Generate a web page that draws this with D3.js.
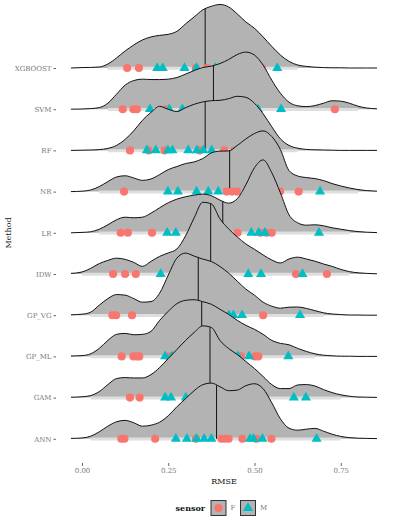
<!DOCTYPE html>
<html>
<head>
<meta charset="utf-8">
<script src="https://d3js.org/d3.v7.min.js"></script>
<style>
  body { margin: 0; background: #fff; }
  svg { display: block; }
  text { font-family: "DejaVu Serif", serif; }
</style>
</head>
<body>
<div id="chart"></div>
<script>
var svgWidth = 397;
var svgHeight = 525;

// categories, top ridge first
var methods = ["XGBOOST", "SVM", "RF", "NR", "LR", "IDW", "GP_VG", "GP_ML", "GAM", "ANN"];
var sensors = ["F", "M"];
var xTicks = [0, 0.25, 0.5, 0.75];

// RMSE values at which the ridge densities were read
var rmseGrid = [-0.032, 0, 0.025, 0.05, 0.075, 0.1, 0.125, 0.15, 0.175, 0.2, 0.225, 0.25,
  0.275, 0.3, 0.325, 0.35, 0.375, 0.4, 0.425, 0.45, 0.475, 0.5, 0.525, 0.55, 0.575, 0.6,
  0.625, 0.65, 0.675, 0.7, 0.725, 0.75, 0.775, 0.8, 0.825, 0.855];

// density of RMSE for each method (same order as rmseGrid)
var densXGBOOST = [0, 0.02, 0.03, 0.05, 0.2, 0.5, 0.85, 1.15, 1.4, 1.55, 1.63, 1.68, 1.83, 2.2, 2.55, 2.9, 3.08, 3.17, 3.05, 2.7, 2.3, 1.98, 1.55, 1.08, 0.65, 0.33, 0.15, 0.08, 0.04, 0.02, 0.01, 0.01, 0, 0, 0, 0];
var densSVM = [0, 0.01, 0.03, 0.08, 0.3, 0.75, 1.2, 1.43, 1.5, 1.48, 1.48, 1.5, 1.58, 1.75, 1.93, 2.08, 2.15, 2.28, 2.48, 2.73, 2.85, 2.7, 2.2, 1.45, 0.8, 0.35, 0.17, 0.13, 0.18, 0.3, 0.42, 0.4, 0.3, 0.15, 0.06, 0.02];
var densRF = [0, 0.01, 0.02, 0.04, 0.1, 0.25, 0.55, 0.98, 1.5, 1.9, 2.2, 2.05, 1.94, 2.13, 2.3, 2.42, 2.48, 2.5, 2.58, 2.7, 2.65, 2.35, 1.83, 1.18, 0.58, 0.25, 0.11, 0.05, 0.03, 0.02, 0.01, 0, 0, 0, 0, 0];
var densNR = [0, 0.02, 0.08, 0.25, 0.5, 0.73, 0.79, 0.68, 0.56, 0.63, 0.85, 1.1, 1.25, 1.4, 1.48, 1.65, 1.93, 2.02, 2.03, 2.3, 2.63, 2.9, 3.03, 2.75, 2.1, 1.05, 0.78, 0.7, 0.65, 0.55, 0.4, 0.28, 0.18, 0.1, 0.05, 0.02];
var densLR = [0, 0.02, 0.05, 0.18, 0.4, 0.65, 0.78, 0.75, 0.78, 0.98, 1.25, 1.5, 1.68, 1.8, 1.88, 1.93, 1.85, 1.63, 1.48, 1.7, 2.4, 3.25, 3.64, 3.0, 2.0, 0.9, 0.5, 0.38, 0.4, 0.35, 0.25, 0.18, 0.11, 0.06, 0.03, 0.01];
var densIDW = [0.03, 0.1, 0.28, 0.52, 0.68, 0.79, 0.73, 0.58, 0.38, 0.63, 0.88, 1.05, 1.25, 1.9, 2.8, 3.58, 3.5, 2.75, 2.25, 1.85, 1.5, 1.23, 0.95, 0.7, 0.55, 0.75, 0.84, 0.75, 0.64, 0.5, 0.38, 0.23, 0.12, 0.06, 0.03, 0.01];
var densGPVG = [0.02, 0.05, 0.15, 0.5, 0.83, 1.03, 1.0, 0.83, 0.65, 0.68, 1.1, 2.0, 2.85, 3.1, 2.95, 2.8, 2.68, 2.43, 2.1, 1.7, 1.3, 1.0, 0.65, 0.45, 0.35, 0.4, 0.41, 0.34, 0.23, 0.12, 0.06, 0.03, 0.01, 0.01, 0, 0];
var densGPML = [0.02, 0.04, 0.13, 0.4, 0.8, 1.1, 1.15, 1.08, 1.1, 1.25, 1.8, 2.25, 2.63, 2.8, 2.83, 2.73, 2.6, 2.35, 2.1, 1.8, 1.55, 1.35, 1.1, 0.8, 0.65, 0.58, 0.4, 0.25, 0.13, 0.06, 0.03, 0.01, 0.01, 0, 0, 0];
var densGAM = [0.02, 0.04, 0.1, 0.3, 0.65, 0.95, 1.0, 0.98, 0.98, 1.15, 1.5, 1.95, 2.4, 2.85, 3.25, 3.58, 3.5, 2.85, 2.45, 2.15, 1.8, 1.45, 1.05, 0.65, 0.45, 0.45, 0.63, 0.65, 0.58, 0.4, 0.25, 0.14, 0.07, 0.03, 0.02, 0.01];
var densANN = [0.02, 0.04, 0.13, 0.35, 0.63, 0.85, 0.92, 0.8, 0.63, 0.68, 0.83, 1.15, 1.6, 2.0, 2.4, 2.7, 2.78, 2.6, 2.4, 2.43, 2.65, 2.75, 2.5, 1.8, 1.0, 0.53, 0.43, 0.48, 0.52, 0.38, 0.23, 0.12, 0.06, 0.03, 0.02, 0.01];

var densities = [densXGBOOST, densSVM, densRF, densNR, densLR, densIDW, densGPVG, densGPML, densGAM, densANN];

// median RMSE per method
var medianRmse = [0.357, 0.381, 0.357, 0.428, 0.408, 0.373, 0.337, 0.347, 0.371, 0.390];

// RMSE of the visible points per method, one list per sensor
var rmseF = [
  [0.131, 0.165, 0.330, 0.362, 0.521],
  [0.118, 0.149, 0.159, 0.243, 0.733],
  [0.139, 0.193, 0.239, 0.341, 0.412, 0.442],
  [0.122, 0.419, 0.435, 0.449, 0.574, 0.628],
  [0.112, 0.133, 0.203, 0.451, 0.517, 0.535, 0.550],
  [0.090, 0.125, 0.156, 0.620, 0.710],
  [0.088, 0.099, 0.145, 0.525],
  [0.115, 0.149, 0.159, 0.166, 0.251, 0.461, 0.501, 0.511],
  [0.139, 0.167],
  [0.114, 0.123, 0.212, 0.330, 0.404, 0.414, 0.425, 0.465, 0.506, 0.549]
];
var rmseM = [
  [0.218, 0.234, 0.297, 0.332, 0.386, 0.566],
  [0.197, 0.253, 0.291, 0.510, 0.577],
  [0.188, 0.214, 0.249, 0.262, 0.308, 0.333, 0.352, 0.376, 0.449, 0.464],
  [0.249, 0.278, 0.332, 0.366, 0.395, 0.690],
  [0.247, 0.272, 0.491, 0.512, 0.530, 0.687],
  [0.228, 0.482, 0.519, 0.639],
  [0.426, 0.439, 0.464, 0.632],
  [0.241, 0.261, 0.275, 0.452, 0.484, 0.598],
  [0.241, 0.258, 0.301, 0.530, 0.614, 0.649],
  [0.272, 0.304, 0.332, 0.354, 0.375, 0.487, 0.497, 0.523, 0.680]
];

var sensorColor = d3.scaleOrdinal().domain(sensors).range(["#F8766D", "#00BFC4"]);

var svg = d3.select("#chart")
  .append("svg")
  .attr("width", svgWidth)
  .attr("height", svgHeight);

// scales
var x = d3.scaleLinear().domain([0, 0.75]).range([82, 340.75]);
var y = d3.scalePoint().domain(methods).range([68, 438.8]);

// ridge height: the tallest density reaches 1.77 rows
var maxDensity = d3.max(densities, d => d3.max(d));
var ridgeScale = 1.77;
var h = d3.scaleLinear().domain([0, maxDensity]).range([0, y.step() * ridgeScale]);

var circleSym = d3.symbol().type(d3.symbolCircle).size(52);
var triSym = d3.symbol().type(d3.symbolTriangle).size(44);

// density value at a given rmse (linear between grid points)
function densityAt(dens, v) {
  var i = d3.bisectRight(rmseGrid, v) - 1;
  i = Math.max(0, Math.min(rmseGrid.length - 2, i));
  var t = (v - rmseGrid[i]) / (rmseGrid[i + 1] - rmseGrid[i]);
  return dens[i] + t * (dens[i + 1] - dens[i]);
}

// draw ridges top to bottom so later rows overlap earlier ones
methods.forEach(function(m, k) {
  var dens = densities[k];
  var base = y(m);
  var g = svg.append("g").attr("class", "ridge");

  var area = d3.area()
    .x((d, j) => x(rmseGrid[j]))
    .y0(base)
    .y1(d => base - h(d))
    .curve(d3.curveMonotoneX);

  var line = d3.line()
    .x((d, j) => x(rmseGrid[j]))
    .y(d => base - h(d))
    .curve(d3.curveMonotoneX);

  g.append("path")
    .datum(dens)
    .attr("d", area)
    .attr("fill", "#b3b3b3");

  // light band along the baseline under the fill
  var inside = dens.map((d, j) => j).filter(j => h(dens[j]) > 2);
  g.append("line")
    .attr("x1", x(rmseGrid[inside[0]]))
    .attr("x2", x(rmseGrid[inside[inside.length - 1]]))
    .attr("y1", base + 0.3)
    .attr("y2", base + 0.3)
    .attr("stroke", "#dedede")
    .attr("stroke-width", 3);

  g.append("path")
    .datum(dens)
    .attr("d", line)
    .attr("fill", "none")
    .attr("stroke", "#111")
    .attr("stroke-width", 1);

  // median line
  var med = medianRmse[k];
  g.append("line")
    .attr("x1", x(med))
    .attr("x2", x(med))
    .attr("y1", base)
    .attr("y2", base - h(densityAt(dens, med)))
    .attr("stroke", "#111")
    .attr("stroke-width", 1);

  g.selectAll("path.f")
    .data(rmseF[k])
    .enter()
    .append("path")
    .attr("class", "f")
    .attr("d", circleSym)
    .attr("transform", d => `translate(${x(d)}, ${base})`)
    .attr("fill", sensorColor("F"));

  g.selectAll("path.m")
    .data(rmseM[k])
    .enter()
    .append("path")
    .attr("class", "m")
    .attr("d", triSym)
    .attr("transform", d => `translate(${x(d)}, ${base})`)
    .attr("fill", sensorColor("M"));
});

// x axis
var xAxis = svg.append("g")
  .attr("transform", "translate(0, 463)")
  .call(d3.axisBottom(x).tickValues(xTicks).tickFormat(d3.format(".2f")).tickSize(3).tickPadding(2));
xAxis.select(".domain").remove();
xAxis.selectAll("line").attr("stroke", "#666");
xAxis.selectAll("text")
  .attr("fill", "#777")
  .style("font-family", "DejaVu Serif")
  .style("font-size", "7px");

// y axis
var yAxis = svg.append("g")
  .attr("transform", "translate(56, 0)")
  .call(d3.axisLeft(y).tickSize(2.5).tickPadding(2));
yAxis.select(".domain").remove();
yAxis.selectAll("line").attr("stroke", "#666");
yAxis.selectAll("text")
  .attr("fill", "#777")
  .style("font-family", "DejaVu Serif")
  .style("font-size", "7px");

// axis titles
svg.append("text")
  .attr("transform", "translate(8.5, 233) rotate(-90)")
  .attr("text-anchor", "middle")
  .attr("dy", "0.35em")
  .attr("fill", "#111")
  .style("font-size", "8px")
  .text("Method");

svg.append("text")
  .attr("x", 224)
  .attr("y", 481)
  .attr("text-anchor", "middle")
  .attr("dy", "0.35em")
  .attr("fill", "#111")
  .style("font-size", "8px")
  .text("RMSE");

// legend
var legend = svg.append("g").attr("transform", "translate(0, 508)");

legend.append("text")
  .attr("x", 205)
  .attr("text-anchor", "end")
  .attr("dy", "0.35em")
  .attr("fill", "#111")
  .style("font-size", "8px")
  .style("font-weight", "bold")
  .text("sensor");

var keys = legend.selectAll("g.key")
  .data(sensors)
  .enter()
  .append("g")
  .attr("class", "key")
  .attr("transform", (d, i) => `translate(${211 + i * 29.5}, 0)`);

keys.append("rect")
  .attr("x", 0)
  .attr("y", -7.5)
  .attr("width", 15)
  .attr("height", 15)
  .attr("fill", "#b3b3b3")
  .attr("stroke", "#333")
  .attr("stroke-width", 1);

keys.append("path")
  .attr("d", d => d === "F" ? circleSym() : triSym())
  .attr("transform", "translate(7.5, 0)")
  .attr("fill", d => sensorColor(d));

keys.append("text")
  .attr("x", 19.5)
  .attr("dy", "0.35em")
  .attr("fill", "#777")
  .style("font-size", "7px")
  .text(d => d);
</script>
</body>
</html>
